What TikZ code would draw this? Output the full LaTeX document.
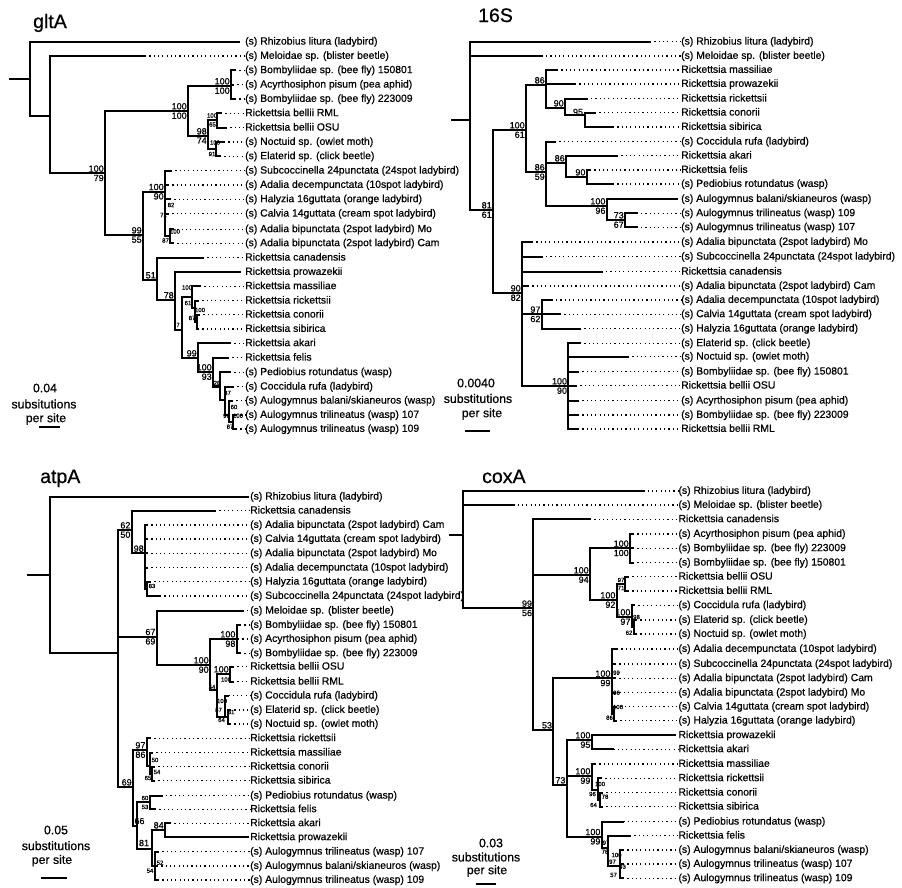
\documentclass[tikz,border=0pt]{standalone}
\usepackage{fontspec}
\setmainfont{Liberation Sans}[FakeBold=0.6]
\newcommand\mylabfont{\fontsize{10.4}{12}\selectfont}
\newcommand\mybsfont{\fontsize{9}{10}\selectfont}
\newcommand\mysmfont{\fontsize{6}{7}\selectfont}
\newcommand\mytitlefont{\fontsize{19.5}{22}\selectfont}
\newcommand\myscalefont{\fontsize{12.3}{14}\selectfont}
\newcommand\Tip[5]{\node[lab] (#1) at (\LX,#4) {#5};\draw[br] (#2,#4) -- (#3,#4);\draw[lead] (#3,#4) -- (#1.west);}
\newcommand\TipN[5]{\node[lab] (#1) at (\LX,#4) {#5};\draw[br] (#2,#4) -- (#3,#4);}
\newcommand\Nd[5]{\draw[br] (#1,#3) -- (#2,#3);\draw[br] (#2,#4) -- (#2,#5);}
\newcommand\Bs[4]{\node[bsl,anchor=south east,xshift=-0.8pt,yshift=1pt] at (#1,#2) {#3};\node[bsl,anchor=north east,xshift=-0.8pt,yshift=-1pt] at (#1,#2) {#4};}
\newcommand\Sm[3]{\node[sml] at (#1,#2) {#3};}
\newcommand\Bl[3]{\node[bsl] at (#1,#2) {#3};}
\tikzset{
  br/.style={line width=2.1pt, line cap=rect},
  lead/.style={line width=1.2pt, dash pattern=on 1.2pt off 3.1pt},
  lab/.style={anchor=west, inner sep=0pt, font=\mylabfont, text height=7.8pt, text depth=2.1pt},
  bsl/.style={inner sep=0.3pt, font=\mybsfont},
  sml/.style={inner sep=0pt, font=\mysmfont},
  ttl/.style={inner sep=0pt, font=\mytitlefont, anchor=base west},
  sc/.style={inner sep=0pt, font=\myscalefont},
}
\begin{document}
\begin{tikzpicture}[x=1pt,y=-1pt]
\useasboundingbox[fill=white] (0,0) rectangle (902,887);
% ================= gltA =================
\def\LX{245}
\node[ttl] (tg) at (33,28) {gltA};
\draw[br] (10,79.3) -- (30,79.3);
\draw[br] (30,41.7) -- (30,116);
\TipN{g1}{30}{239}{41.7}{(s) Rhizobius litura (ladybird)}
\Nd{30}{50}{116}{56}{173.3}
\Tip{g2}{50}{145}{56}{(s) Meloidae sp. (blister beetle)}
\Nd{50}{105}{173.3}{111}{235} \Bs{105}{173.3}{100}{79}
\Nd{105}{188}{111}{86}{136} \Bs{188}{111}{100}{100}
\Nd{188}{231}{86}{70.3}{99} \Bs{231}{86}{100}{100}
\Tip{g3}{231}{235}{70.3}{(s) Bombyliidae sp. (bee fly) 150801}
\Tip{g4}{231}{233}{84.7}{(s) Acyrthosiphon pisum (pea aphid)}
\Tip{g5}{231}{235}{99}{(s) Bombyliidae sp. (bee fly) 223009}
\Nd{188}{208}{136}{120}{149} \Bs{208}{136}{98}{74}
\Nd{208}{217}{120}{113.3}{127.7} \Sm{212}{115.5}{100}\Sm{212.5}{124.5}{65}
\Tip{g6}{217}{221}{113.3}{Rickettsia bellii RML}
\Tip{g7}{217}{226}{127.7}{Rickettsia bellii OSU}
\Nd{208}{216}{149}{142}{156.3} \Sm{215}{142.5}{100}\Sm{212}{154}{91}
\Tip{g8}{216}{224}{142}{(s) Noctuid sp. (owlet moth)}
\Tip{g9}{216}{220}{156.3}{(s) Elaterid sp. (click beetle)}
\Nd{105}{143}{235}{191.7}{280} \Bs{143}{235}{99}{55}
\Nd{143}{165}{191.7}{170.7}{236.3} \Bs{165}{191.7}{100}{90}
\Tip{g10}{165}{171}{170.7}{(s) Subcoccinella 24punctata (24spot ladybird)}
\Tip{g11}{165}{168}{185}{(s) Adalia decempunctata (10spot ladybird)}
\Tip{g12}{165}{170}{199.3}{(s) Halyzia 16guttata (orange ladybird)}
\Tip{g13}{165}{168}{213.7}{(s) Calvia 14guttata (cream spot ladybird)}
\Nd{165}{170}{236.3}{229.3}{243.3}
\Tip{g14}{170}{173}{229.3}{(s) Adalia bipunctata (2spot ladybird) Mo}
\Tip{g15}{170}{173}{243.3}{(s) Adalia bipunctata (2spot ladybird) Cam}
\Sm{171}{205}{82}\Sm{163.5}{215}{72}\Sm{175}{231.5}{100}\Sm{165.5}{240.5}{87}
\Nd{143}{157}{280}{257.7}{300} \Bs{157}{280}{51}{}
\Tip{g16}{157}{203}{257.7}{Rickettsia canadensis}
\Nd{157}{175}{300}{272}{330} \Bs{175}{300}{78}{}
\TipN{g17}{175}{240}{272}{Rickettsia prowazekii}
\Nd{175}{182}{330}{297}{358} \Sm{178}{325}{7}
\Nd{182}{192}{297}{286.3}{307.7} \Sm{187}{287.5}{100}\Sm{188}{303}{61}
\Tip{g18}{192}{200}{286.3}{Rickettsia massiliae}
\Nd{192}{195}{307.7}{300.7}{321.8}
\Tip{g19}{195}{198}{300.7}{Rickettsia rickettsii}
\Nd{195}{197}{321.8}{314.7}{329} \Sm{200}{310}{100}\Sm{192}{318}{87}
\Tip{g20}{197}{199}{314.7}{Rickettsia conorii}
\Tip{g21}{197}{198}{329}{Rickettsia sibirica}
\Nd{182}{198}{358}{343.3}{372} \Bs{198}{358}{99}{}
\Tip{g22}{198}{230}{343.3}{Rickettsia akari}
\Nd{198}{213}{372}{357.7}{386.5} \Bs{213}{372}{100}{93}
\Tip{g23}{213}{228}{357.7}{Rickettsia felis}
\Nd{213}{220}{386.5}{372.3}{400} \Sm{217}{383}{28}
\Tip{g24}{220}{230}{372.3}{(s) Pediobius rotundatus (wasp)}
\Nd{220}{225}{400}{386.7}{415} \Sm{227.5}{393}{87}
\Tip{g25}{225}{233}{386.7}{(s) Coccidula rufa (ladybird)}
\Nd{225}{229}{415}{400.7}{422} \Sm{234}{407}{60}
\Tip{g26}{229}{232}{400.7}{(s) Aulogymnus balani/skianeuros (wasp)}
\Nd{229}{233}{422}{415}{429} \Sm{226.5}{415.7}{96}\Sm{238}{415.7}{100}\Sm{230}{426.7}{87}
\Tip{g27}{233}{236}{415}{(s) Aulogymnus trilineatus (wasp) 107}
\Tip{g28}{233}{236}{429}{(s) Aulogymnus trilineatus (wasp) 109}
\node[sc] (gs1) at (45,388) {0.04};
\node[sc] (gs2) at (44,404) {subsitutions};
\node[sc] (gs3) at (46,419) {per site};
\draw[br] (40,427) -- (59,427);
% ================= 16S =================
\def\LX{681}
\node[ttl] (ts) at (478,22) {16S};
\draw[br] (452,120) -- (470,120);
\draw[br] (470,41.7) -- (470,210);
\Tip{s1}{470}{650}{41.7}{(s) Rhizobius litura (ladybird)}
\Tip{s2}{470}{541.7}{56}{(s) Meloidae sp. (blister beetle)}
\Nd{470}{493}{210}{130}{293} \Bs{493}{210}{81}{61}
\Nd{493}{526}{130}{85}{172} \Bs{526}{130}{100}{61}
\Nd{526}{546}{85}{70}{108} \Bs{546}{85}{86}{}
\Tip{s3}{546}{557}{70}{Rickettsia massiliae}
\Tip{s4}{546}{575}{84}{Rickettsia prowazekii}
\Nd{546}{565}{108}{98.7}{115} \Bs{565}{108}{90}{}
\Tip{s5}{565}{586.7}{98.7}{Rickettsia rickettsii}
\Nd{565}{585}{115}{112.7}{127} \Bl{578}{112}{95}
\Tip{s6}{585}{595}{112.7}{Rickettsia conorii}
\Tip{s7}{585}{613}{127}{Rickettsia sibirica}
\Nd{526}{546}{172}{141.7}{206} \Bs{546}{172}{86}{59}
\Tip{s8}{546}{555}{141.7}{(s) Coccidula rufa (ladybird)}
\Nd{546}{566}{163}{155.7}{177} \Bs{566}{163}{86}{}
\Tip{s9}{566}{617}{155.7}{Rickettsia akari}
\Nd{566}{586.7}{177}{170}{184} \Bs{586.7}{177}{90}{}
\Tip{s10}{586.7}{590}{170}{Rickettsia felis}
\Tip{s11}{586.7}{613}{184}{(s) Pediobius rotundatus (wasp)}
\Nd{546}{606.7}{206}{199}{220} \Bs{606.7}{206}{100}{96}
\TipN{s12}{606.7}{677}{199}{(s) Aulogymnus balani/skianeuros (wasp)}
\Nd{606.7}{625}{220}{213.3}{227.3} \Bs{625}{220}{73}{67}
\Tip{s13}{625}{636.7}{213.3}{(s) Aulogymnus trilineatus (wasp) 109}
\Tip{s14}{625}{636.7}{227.3}{(s) Aulogymnus trilineatus (wasp) 107}
\Nd{493}{522}{293}{242}{386} \Bs{522}{293}{90}{82}
\Tip{s15}{522}{532}{242}{(s) Adalia bipunctata (2spot ladybird) Mo}
\Tip{s16}{522}{541.7}{256.7}{(s) Subcoccinella 24punctata (24spot ladybird)}
\Tip{s17}{522}{601.7}{271.7}{Rickettsia canadensis}
\Tip{s18}{522}{528}{286}{(s) Adalia bipunctata (2spot ladybird) Cam}
\Nd{522}{541.7}{314.3}{300}{328.7} \Bs{541.7}{314.3}{97}{62}
\Tip{s19}{541.7}{551.7}{300}{(s) Adalia decempunctata (10spot ladybird)}
\Tip{s20}{541.7}{560}{314.3}{(s) Calvia 14guttata (cream spot ladybird)}
\Tip{s21}{541.7}{580}{328.7}{(s) Halyzia 16guttata (orange ladybird)}
\Nd{522}{568.3}{386}{343.3}{429} \Bs{568.3}{386}{100}{90}
\Tip{s22}{568.3}{580}{343.3}{(s) Elaterid sp. (click beetle)}
\Tip{s23}{568.3}{628}{356.7}{(s) Noctuid sp. (owlet moth)}
\Tip{s24}{568.3}{578}{371.7}{(s) Bombyliidae sp. (bee fly) 150801}
\Tip{s25}{568.3}{576}{385.7}{Rickettsia bellii OSU}
\Tip{s26}{568.3}{578}{400.7}{(s) Acyrthosiphon pisum (pea aphid)}
\Tip{s27}{568.3}{578}{415}{(s) Bombyliidae sp. (bee fly) 223009}
\Tip{s28}{568.3}{578}{429}{Rickettsia bellii RML}
\node[sc] (ss1) at (476,383) {0.0040};
\node[sc] (ss2) at (478,398.5) {substitutions};
\node[sc] (ss3) at (482,414) {per site};
\draw[br] (466,431) -- (489,431);
% ================= atpA =================
\def\LX{250}
\node[ttl] (ta) at (40,483) {atpA};
\draw[br] (28,575) -- (50,575);
\draw[br] (50,496.7) -- (50,653);
\TipN{a1}{50}{248}{496.7}{(s) Rhizobius litura (ladybird)}
\Nd{50}{118}{653}{530}{787}
\Nd{118}{131.7}{530}{510.7}{553.3} \Bs{131.7}{530}{62}{50}
\Tip{a2}{131.7}{215}{510.7}{Rickettsia canadensis}
\Nd{131.7}{145}{553.3}{525}{589} \Bs{145}{553.3}{98}{}
\Tip{a3}{145}{147}{525}{(s) Adalia bipunctata (2spot ladybird) Cam}
\Tip{a4}{145}{147}{539}{(s) Calvia 14guttata (cream spot ladybird)}
\Tip{a5}{145}{147}{553.3}{(s) Adalia bipunctata (2spot ladybird) Mo}
\Tip{a6}{145}{147}{567.7}{(s) Adalia decempunctata (10spot ladybird)}
\Nd{145}{147}{589}{581.7}{596} \Sm{152}{586}{83}
\Tip{a7}{147}{150}{581.7}{(s) Halyzia 16guttata (orange ladybird)}
\Tip{a8}{147}{160}{596}{(s) Subcoccinella 24punctata (24spot ladybird)}
\Nd{118}{156.7}{636.7}{610.7}{665} \Bs{156.7}{636.7}{67}{69}
\Tip{a9}{156.7}{242.7}{610.7}{(s) Meloidae sp. (blister beetle)}
\Nd{156.7}{210}{665}{639}{690} \Bs{210}{665}{100}{90}
\Nd{210}{236.7}{639}{625}{653.3} \Bs{236.7}{639}{100}{98}
\Tip{a10}{236.7}{240}{625}{(s) Bombyliidae sp. (bee fly) 150801}
\Tip{a11}{236.7}{238}{639}{(s) Acyrthosiphon pisum (pea aphid)}
\Tip{a12}{236.7}{240}{653.3}{(s) Bombyliidae sp. (bee fly) 223009}
\Nd{210}{216.7}{690}{674}{717} \Sm{212}{687}{54}
\Nd{216.7}{230}{674}{666.7}{681.7} \Bs{230}{674}{100}{} \Sm{226}{679.5}{100}
\Tip{a13}{230}{233}{666.7}{Rickettsia bellii OSU}
\Tip{a14}{230}{233}{681.7}{Rickettsia bellii RML}
\Nd{216.7}{225}{717}{695.7}{717}
\Tip{a15}{225}{228.3}{695.7}{(s) Coccidula rufa (ladybird)}
\Nd{225}{228}{717}{710}{724}
\Tip{a16}{228}{230}{710}{(s) Elaterid sp. (click beetle)}
\Tip{a17}{228}{230}{724}{(s) Noctuid sp. (owlet moth)}
\Sm{222}{701}{100}\Sm{218.5}{710}{87}\Sm{231}{712}{81}\Sm{221.5}{720}{64}
\Nd{118}{133}{787}{750}{826} \Bs{133}{787}{69}{}
\Nd{133}{146.7}{750}{738.3}{766} \Bs{146.7}{750}{97}{86}
\Tip{a18}{146.7}{150}{738.3}{Rickettsia rickettsii}
\Nd{146.7}{150}{766}{752.7}{773.7} \Sm{155}{760}{50}\Sm{157}{772}{54}\Sm{148}{778}{65}
\Tip{a19}{150}{152}{752.7}{Rickettsia massiliae}
\Nd{150}{152}{773.7}{766.7}{780.7}
\Tip{a20}{152}{154}{766.7}{Rickettsia conorii}
\Tip{a21}{152}{154}{780.7}{Rickettsia sibirica}
\Nd{133}{137}{826}{802}{849} \Bl{139.5}{821}{66}
\Nd{137}{150}{802}{795.7}{809.3} \Sm{145}{798}{60}\Sm{145}{807}{53}
\Tip{a22}{150}{161.7}{795.7}{(s) Pediobius rotundatus (wasp)}
\Tip{a23}{150}{155}{809.3}{Rickettsia felis}
\Nd{137}{152}{849}{830}{866} \Bl{144}{843}{81}
\Nd{152}{165}{830}{823.3}{837.3} \Bs{165}{830}{84}{}
\Tip{a24}{165}{170}{823.3}{Rickettsia akari}
\TipN{a25}{165}{248}{837.3}{Rickettsia prowazekii}
\Nd{152}{155}{866}{851.7}{880} \Sm{160}{862.7}{52}\Sm{150}{870.7}{54}
\Tip{a26}{155}{158}{851.7}{(s) Aulogymnus trilineatus (wasp) 107}
\Tip{a27}{155}{157}{866}{(s) Aulogymnus balani/skianeuros (wasp)}
\Tip{a28}{155}{158}{880}{(s) Aulogymnus trilineatus (wasp) 109}
\node[sc] (as1) at (56,830) {0.05};
\node[sc] (as2) at (56,845.7) {substitutions};
\node[sc] (as3) at (52,860.7) {per site};
\draw[br] (42,878) -- (66,878);
% ================= coxA =================
\def\LX{678.3}
\node[ttl] (tc) at (482,483) {coxA};
\draw[br] (450,535) -- (463.3,535);
\draw[br] (463.3,491) -- (463.3,608.3);
\Tip{c1}{463.3}{643.3}{491}{(s) Rhizobius litura (ladybird)}
\Tip{c2}{463.3}{513.3}{505}{(s) Meloidae sp. (blister beetle)}
\Nd{463.3}{533.3}{608.3}{519.3}{730} \Bs{533.3}{608.3}{99}{56}
\Tip{c3}{533.3}{590}{519.3}{Rickettsia canadensis}
\Nd{533.3}{590}{575}{548.3}{600} \Bs{590}{575}{100}{94}
\Nd{590}{630}{548.3}{534}{562.7} \Bs{630}{548.3}{100}{100}
\Tip{c4}{630}{633}{534}{(s) Acyrthosiphon pisum (pea aphid)}
\Tip{c5}{630}{633}{548.3}{(s) Bombyliidae sp. (bee fly) 223009}
\Tip{c6}{630}{633}{562.7}{(s) Bombyliidae sp. (bee fly) 150801}
\Nd{590}{616.7}{600}{584}{617} \Bs{616.7}{600}{100}{92}
\Nd{616.7}{625}{584}{576.7}{591} \Sm{621}{580}{97}\Sm{621}{588}{71}
\Tip{c7}{625}{628}{576.7}{Rickettsia bellii OSU}
\Tip{c8}{625}{628}{591}{Rickettsia bellii RML}
\Nd{616.7}{631.7}{617}{605.3}{627} \Bs{631.7}{617}{100}{97}
\Tip{c9}{631.7}{634}{605.3}{(s) Coccidula rufa (ladybird)}
\Nd{631.7}{634}{627}{620}{634} \Sm{636.5}{617}{98}\Sm{629}{632.7}{62}
\Tip{c10}{634}{636}{620}{(s) Elaterid sp. (click beetle)}
\Tip{c11}{634}{636}{634}{(s) Noctuid sp. (owlet moth)}
\Nd{533.3}{553.3}{730}{678.3}{785} \Bs{553.3}{730}{53}{}
\Nd{553.3}{611.7}{678.3}{649}{713.7} \Bs{611.7}{678.3}{100}{99}
\Tip{c12}{611.7}{617}{649}{(s) Adalia decempunctata (10spot ladybird)}
\Tip{c13}{611.7}{615}{664}{(s) Subcoccinella 24punctata (24spot ladybird)}
\Tip{c14}{611.7}{615}{678.3}{(s) Adalia bipunctata (2spot ladybird) Cam}
\Tip{c15}{611.7}{615}{692.7}{(s) Adalia bipunctata (2spot ladybird) Mo}
\Nd{611.7}{614}{713.7}{706.7}{720.7}
\Tip{c16}{614}{616}{706.7}{(s) Calvia 14guttata (cream spot ladybird)}
\Tip{c17}{614}{616}{720.7}{(s) Halyzia 16guttata (orange ladybird)}
\Sm{616.5}{672.7}{99}\Sm{616.5}{692.7}{96}\Sm{618}{707}{100}\Sm{609.5}{717.7}{86}
\Nd{553.3}{566.7}{785}{740}{836.7} \Bs{566.7}{785}{73}{}
\Nd{566.7}{591.7}{740}{735.3}{749.3} \Bs{591.7}{740}{100}{95}
\TipN{c18}{591.7}{675}{735.3}{Rickettsia prowazekii}
\Tip{c19}{591.7}{613.3}{749.3}{Rickettsia akari}
\Nd{566.7}{591.7}{776}{764}{790} \Bs{591.7}{776}{100}{99}
\Tip{c20}{591.7}{595}{764}{Rickettsia massiliae}
\Nd{591.7}{598.3}{790}{778.3}{800}
\Tip{c21}{598.3}{601}{778.3}{Rickettsia rickettsii}
\Nd{598.3}{600}{800}{792.7}{806.7}
\Tip{c22}{600}{602}{792.7}{Rickettsia conorii}
\Tip{c23}{600}{602}{806.7}{Rickettsia sibirica}
\Sm{600}{784}{100}\Sm{592.5}{794}{96}\Sm{605}{796.7}{78}\Sm{593.5}{805}{64}
\Nd{566.7}{601.7}{836.7}{821.7}{848} \Bs{601.7}{836.7}{100}{99}
\Tip{c24}{601.7}{623.3}{821.7}{(s) Pediobius rotundatus (wasp)}
\Nd{601.7}{608}{848}{835.7}{866} \Sm{606}{842.7}{97}\Sm{605}{851.7}{78}
\Tip{c25}{608}{630}{835.7}{Rickettsia felis}
\Nd{608}{620}{866}{850}{878.3} \Sm{616.5}{855}{100}\Sm{612.5}{861.7}{97}\Sm{622.5}{866.7}{93}\Sm{613.5}{875}{57}
\Tip{c26}{620}{623}{850}{(s) Aulogymnus balani/skianeuros (wasp)}
\Tip{c27}{620}{623}{864}{(s) Aulogymnus trilineatus (wasp) 107}
\Tip{c28}{620}{623}{878.3}{(s) Aulogymnus trilineatus (wasp) 109}
\node[sc] (cs1) at (491,843) {0.03};
\node[sc] (cs2) at (486,857) {substitutions};
\node[sc] (cs3) at (487,871) {per site};
\draw[br] (477,884) -- (495,884);
\end{tikzpicture}
\end{document}
